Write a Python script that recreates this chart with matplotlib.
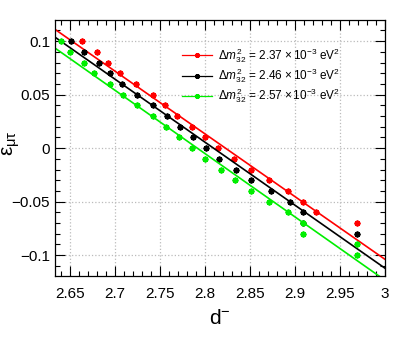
import numpy as np
import matplotlib
matplotlib.use('Agg')
import matplotlib.pyplot as plt
from matplotlib.ticker import MultipleLocator

plt.rcParams['font.family'] = ['Liberation Sans', 'DejaVu Sans']
plt.rcParams['mathtext.fontset'] = 'custom'
plt.rcParams['mathtext.rm'] = 'Liberation Sans'
plt.rcParams['mathtext.it'] = 'Liberation Sans:italic'
plt.rcParams['mathtext.sf'] = 'Liberation Sans'

# --- data ------------------------------------------------------------------
x_red = [2.6637, 2.6804, 2.6926, 2.7056, 2.7230, 2.7420, 2.7560, 2.7690, 2.7856,
         2.7996, 2.8144, 2.8322, 2.8508, 2.8711, 2.8926, 2.9089, 2.9241, 2.9697]
y_red = [0.10, 0.09, 0.08, 0.07, 0.06, 0.05, 0.04, 0.03, 0.02,
         0.01, 0.00, -0.01, -0.02, -0.03, -0.04, -0.05, -0.06, -0.07]

x_black = [2.6511, 2.6659, 2.6822, 2.6941, 2.7081, 2.7248, 2.7426, 2.7581, 2.7719,
           2.7867, 2.8015, 2.8156, 2.8344, 2.8515, 2.8737, 2.8944, 2.9093, 2.9093, 2.9697]
y_black = [0.10, 0.09, 0.08, 0.07, 0.06, 0.05, 0.04, 0.03, 0.02,
           0.01, 0.00, -0.01, -0.02, -0.03, -0.04, -0.05, -0.06, -0.07, -0.08]

x_green = [2.6397, 2.6504, 2.6659, 2.6770, 2.6944, 2.7093, 2.7248, 2.7426, 2.7567,
           2.7715, 2.7859, 2.8004, 2.8174, 2.8333, 2.8515, 2.8711, 2.8926, 2.9093,
           2.9093, 2.9697, 2.9697]
y_green = [0.10, 0.09, 0.08, 0.07, 0.06, 0.05, 0.04, 0.03, 0.02,
           0.01, 0.00, -0.01, -0.02, -0.03, -0.04, -0.05, -0.06, -0.07,
           -0.08, -0.09, -0.10]

# fitted lines (end points)
x_fit = [2.6333, 3.0]
fit_red = [0.111, -0.1037]
fit_black = [0.1037, -0.112]
fit_green = [0.0935, -0.1232]

labels = [r'$\Delta m^{2}_{32}$ = 2.37 $\times\,10^{-3}$ eV$^{2}$',
          r'$\Delta m^{2}_{32}$ = 2.46 $\times\,10^{-3}$ eV$^{2}$',
          r'$\Delta m^{2}_{32}$ = 2.57 $\times\,10^{-3}$ eV$^{2}$']

# -----------------------------------------------------------------------------
fig = plt.figure(figsize=(3.99, 3.37), dpi=100)
ax = fig.add_axes([0.138, 0.181, 0.826, 0.760])

mk = dict(marker=(8, 2, 0), markersize=4.2, markeredgewidth=1.3, linestyle='none')
series = [(x_red, y_red, fit_red, '#ff0000'),
          (x_black, y_black, fit_black, '#000000'),
          (x_green, y_green, fit_green, '#00ee00')]
handles = []
for (xs, ys, fit, c), lab in zip(series, labels):
    ax.plot(xs, ys, color=c, **mk)
    ax.plot(x_fit, fit, color=c, lw=1.2)
    h, = ax.plot([], [], color=c, lw=0.9, marker=(8, 2, 0), markersize=3.5,
                 markeredgewidth=1.1, label=lab)
    handles.append(h)

ax.set_xlim(2.6333, 3.0)
ax.set_ylim(-0.1195, 0.1199)
ax.xaxis.set_major_locator(MultipleLocator(0.05))
ax.xaxis.set_minor_locator(MultipleLocator(0.01))
ax.yaxis.set_major_locator(MultipleLocator(0.05))
ax.yaxis.set_minor_locator(MultipleLocator(0.01))
fmt = plt.FuncFormatter(lambda v, p: ('%g' % round(v, 3)).replace('-', '\u2212'))
ax.xaxis.set_major_formatter(fmt)
ax.yaxis.set_major_formatter(fmt)
ax.tick_params(which='both', direction='in', top=True, right=True, labelsize=11)
ax.tick_params(which='major', length=7, width=0.8)
ax.tick_params(which='minor', length=3.5, width=0.8)
ax.tick_params(axis='x', pad=8)
ax.grid(True, which='major', color='#bbbbbb', linestyle=':', linewidth=0.9)
for s in ax.spines.values():
    s.set_linewidth(0.9)

ax.set_xlabel(r'd$^{-}$', fontsize=15, labelpad=6)
ax.set_ylabel(r'$\mathrm{\epsilon}_{\mathrm{\mu\tau}}$', fontsize=15)
ax.yaxis.set_label_coords(-0.1, 0.52)

ax.legend(handles=handles, loc='upper left', bbox_to_anchor=(0.37, 0.915),
          frameon=False, fontsize=8.5, handlelength=2.6, handletextpad=0.45,
          labelspacing=0.12, borderaxespad=0)

fig.savefig('out.png', dpi=100)
